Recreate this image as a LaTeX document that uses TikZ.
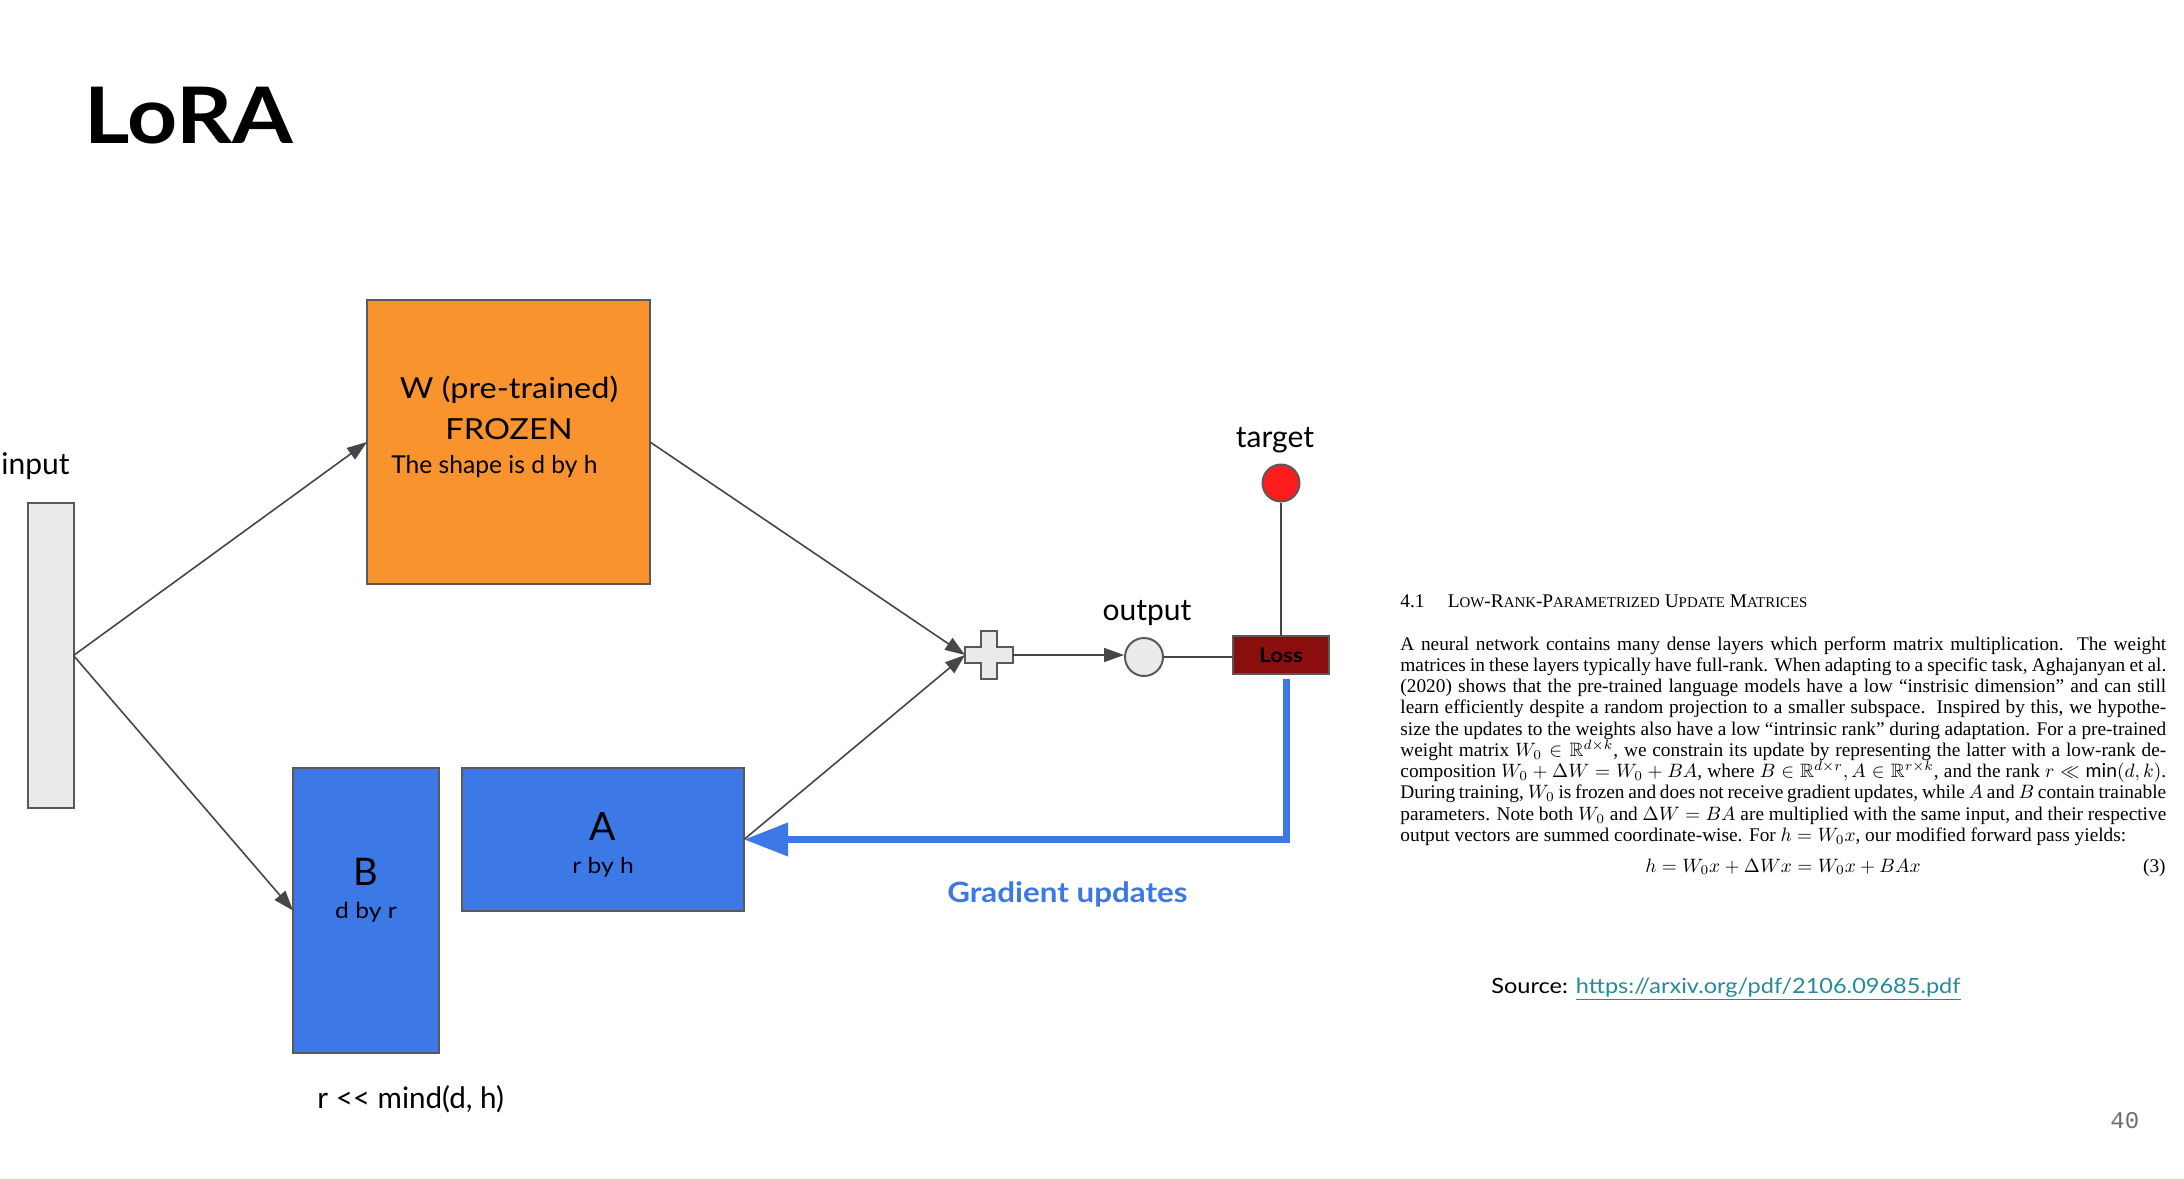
\documentclass[tikz,border=0pt]{standalone}
\usepackage{amsmath,amssymb}
\usepackage{fontspec}
\setmainfont{Lato}
\newfontfamily\wide{Lato}[FakeStretch=1.12]
\newfontfamily\paperfont{Liberation Serif}
\newfontfamily\pagefont{Liberation Mono}
\usetikzlibrary{arrows.meta,calc}
\definecolor{lorange}{RGB}{248,147,46}
\definecolor{lblue}{RGB}{60,120,230}
\definecolor{lgrayb}{RGB}{89,89,89}
\definecolor{lfill}{RGB}{235,235,235}
\definecolor{lossred}{RGB}{139,14,14}
\definecolor{tred}{RGB}{255,28,28}
\definecolor{linkteal}{RGB}{38,138,155}
\definecolor{pagegray}{RGB}{110,110,110}
\definecolor{arrowgray}{RGB}{70,70,70}
\newcommand\fsc[1]{{\fontsize{7.7}{9}\selectfont #1}}
\newcommand\pl[1]{\makebox[396pt][s]{#1}\par}
\newcommand\ptext[1]{\scalebox{0.967}{\paperfont\fontsize{10}{11}\selectfont #1}}
\begin{document}
\begin{tikzpicture}[x=0.5pt,y=-0.5pt,
  box/.style={draw=lgrayb, line width=1pt, inner sep=0, outer sep=0},
  conn/.style={draw=arrowgray, line width=0.8pt, -{Triangle[length=10pt,width=7pt]}},
  plain/.style={draw=arrowgray, line width=0.8pt},
  grad/.style={draw=lblue, line width=3.5pt, -{Triangle[length=22pt,width=16pt]}},
  lbl/.style={inner sep=0, anchor=base},
  lblw/.style={inner sep=0, anchor=base west}]
\useasboundingbox (0,0) rectangle (2184,1178);

% title
\node[lblw, font=\wide\fontsize{39}{44}\selectfont\bfseries] (title) at (84,143) {LoRA};

% boxes
\node[box, fill=lfill, minimum width=23pt, minimum height=152.5pt] (input) at (50.5,655.5) {};
\node[box, fill=lorange, minimum width=141.5pt, minimum height=142pt] (W) at (508.5,442) {};
\node[box, fill=lblue, minimum width=73pt, minimum height=142.5pt] (B) at (366,910.5) {};
\node[box, fill=lblue, minimum width=141pt, minimum height=71.5pt] (A) at (603,839.5) {};
\node[box, fill=lossred, minimum width=48pt, minimum height=19pt, font=\wide\bfseries\fontsize{10}{11}\selectfont] (loss) at (1281,655) {Loss};
\node[circle, draw=lgrayb, line width=1pt, fill=lfill, minimum size=19pt, inner sep=0] (out) at (1144,657) {};
\node[circle, draw=lgrayb, line width=1pt, fill=tred, minimum size=18.5pt, inner sep=0] (target) at (1281,483) {};
\node[minimum width=24pt, minimum height=23.5pt, inner sep=0, outer sep=0] (plus) at (989,655) {};
\begin{scope}[shift={(989,655)}]
\draw[draw=lgrayb, line width=1pt, fill=lfill] (-8,-24) -- (8,-24) -- (8,-8) -- (24,-8) -- (24,8) -- (8,8) -- (8,24) -- (-8,24) -- (-8,8) -- (-24,8) -- (-24,-8) -- (-8,-8) -- cycle;
\end{scope}

% connectors
\draw[conn] (input.east) -- (W.west);
\draw[conn] (input.east) -- (B.west);
\draw[conn] (W.east) -- (plus.west);
\draw[conn] (A.east) -- (plus.west);
\draw[conn] (plus.east) -- (plus.east -| out.west);
\draw[plain] (out.east) -- (out.east -| loss.west);
\draw[plain] (target.south) -- (loss.north);
\draw[grad] ([xshift=2.5pt,yshift=-2.5pt]loss.south) |- (A.east);

% labels
\node[lblw, font=\fontsize{15}{18}\selectfont] (inlbl) at (1,474) {input};
\node[lbl, font=\fontsize{15}{18}\selectfont] (tlbl) at (1275,447) {target};
\node[lbl, font=\fontsize{15}{18}\selectfont] (olbl) at (1147,620) {output};
\node[lbl, font=\wide\fontsize{14.5}{17}\selectfont] (w1) at (509,398) {W (pre-trained)};
\node[lbl, font=\wide\fontsize{14.5}{17}\selectfont] (w2) at (509,439) {FROZEN};
\node[lblw, font=\fontsize{12.3}{14}\selectfont] (w3) at (391,473) {The shape is d by h};
\node[lbl, font=\fontsize{19}{22}\selectfont] (b1) at (366,885) {B};
\node[lbl, font=\wide\fontsize{11}{12}\selectfont] (b2) at (366,918) {d by r};
\node[lbl, font=\fontsize{19.5}{22}\selectfont] (a1) at (603,840) {A};
\node[lbl, font=\wide\fontsize{11}{12}\selectfont] (a2) at (603,873) {r by h};
\node[lblw, font=\fontsize{14.8}{17}\selectfont] (rr) at (317,1108) {r <\kern0pt< mind(d, h)};
\node[lblw, font=\wide\bfseries\fontsize{14}{17}\selectfont, text=lblue] (gu) at (947,902) {Gradient updates};

% paper excerpt
\node[lblw] (ph) at (1400,607) {\ptext{4.1\hspace{12pt}L\fsc{OW}-R\fsc{ANK}-P\fsc{ARAMETRIZED} U\fsc{PDATE} M\fsc{ATRICES}}};
\node[lblw] (pp) at (1400,650) {\ptext{\begin{minipage}[t]{396pt}\setlength{\parindent}{0pt}%
\pl{A neural network contains many dense layers which perform matrix multiplication.\ \ The weight}
\pl{matrices in these layers typically have full-rank. When adapting to a specific task, Aghajanyan et al.}
\pl{(2020) shows that the pre-trained language models have a low “instrisic dimension” and can still}
\pl{learn efficiently despite a random projection to a smaller subspace.\ \ Inspired by this, we hypothe-}
\pl{size the updates to the weights also have a low “intrinsic rank” during adaptation. For a pre-trained}
\pl{weight matrix $W_0 \in \mathbb{R}^{d\times k}$, we constrain its update by representing the latter with a low-rank de-}
\pl{composition $W_0+\Delta W = W_0 + BA$, where $B\in\mathbb{R}^{d\times r}, A\in\mathbb{R}^{r\times k}$, and the rank $r \ll \min(d,k)$.}
\pl{During training, $W_0$ is frozen and does not receive gradient updates, while $A$ and $B$ contain trainable}
\pl{parameters. Note both $W_0$ and $\Delta W = BA$ are multiplied with the same input, and their respective}
output vectors are summed coordinate-wise. For $h = W_0x$, our modified forward pass yields:\par
\end{minipage}}};
\node[lbl] (peq) at (1783,872) {\ptext{$h = W_0x + \Delta W x = W_0x + BAx$}};
\node[inner sep=0, anchor=base east] (pno) at (2166,872) {\ptext{(3)}};

% source and page number
\node[lblw, font=\wide\fontsize{10.5}{12}\selectfont] (src) at (1491,993) {Source: \textcolor{linkteal}{\underline{https://arxiv.org/pdf/2106.09685.pdf}}};
\node[lblw, font=\pagefont\fontsize{12}{14}\selectfont, text=pagegray] (pg) at (2110,1128) {40};
\end{tikzpicture}
\end{document}
